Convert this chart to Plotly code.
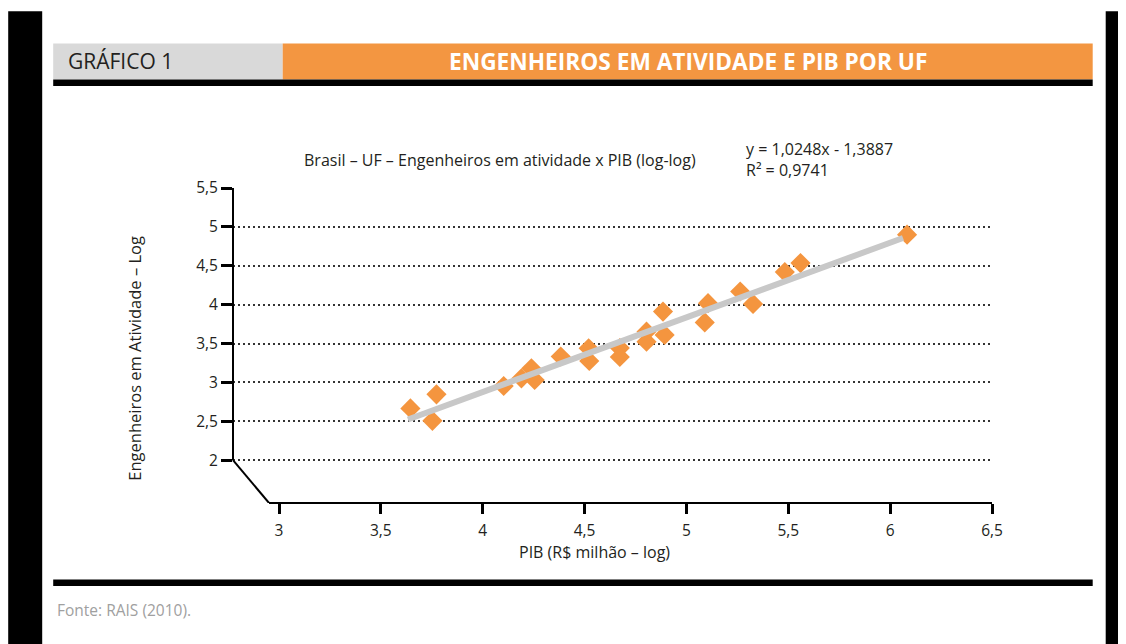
import plotly.graph_objects as go

# ---- data ----
pib_log = [3.645, 3.773, 3.753, 4.103, 4.190, 4.239, 4.255, 4.383, 4.520, 4.523,
           4.673, 4.673, 4.804, 4.804, 4.885, 4.893, 5.106, 5.090, 5.264, 5.327,
           5.483, 5.560, 6.083]
eng_log = [2.666, 2.847, 2.506, 2.954, 3.053, 3.182, 3.031, 3.334, 3.439, 3.276,
           3.443, 3.327, 3.653, 3.524, 3.911, 3.611, 4.019, 3.772, 4.169, 4.010,
           4.419, 4.535, 4.900]
trend_x = [3.633, 6.063]
trend_y = [2.524, 4.857]

x_ticks = [3, 3.5, 4, 4.5, 5, 5.5, 6, 6.5]
x_tick_labels = ["3", "3,5", "4", "4,5", "5", "5,5", "6", "6,5"]
y_ticks = [2, 2.5, 3, 3.5, 4, 4.5, 5, 5.5]
y_tick_labels = ["2", "2,5", "3", "3,5", "4", "4,5", "5", "5,5"]

header_left = "GRÁFICO 1"
header_title = "ENGENHEIROS EM ATIVIDADE E PIB POR UF"
chart_title = "Brasil – UF – Engenheiros em atividade x PIB (log-log)"
equation = "y = 1,0248x - 1,3887<br>R² = 0,9741"
x_title = "PIB (R$ milhão – log)"
y_title = "Engenheiros em Atividade – Log"
source = "Fonte: RAIS (2010)."

# ---- layout geometry (reference pixels) ----
W, H = 1126, 644
OFF = 8  # page body margin of the browser
L, PR, PT, PB = 233.3, 992.3, 188.3, 502.7   # plot area edges in px
x_min = 3 - (279.3 - L) / 203.7
y_min = 2 - (PB - 460.0) / 77.6
x_axis_start = 3 - (279.3 - 269.3) / 203.7

pw, ph = PR - L, PB - PT


def px(x):
    return (x - L) / pw


def py(y):
    return (PB - y) / ph


FONT = "Open Sans"
ORANGE = "#F4953F"
TXT = "#231F20"

fig = go.Figure()
fig.add_trace(go.Scatter(
    x=pib_log, y=eng_log, mode="markers",
    marker=dict(symbol="diamond", size=15.5, color=ORANGE, line=dict(width=0)),
    showlegend=False, hoverinfo="x+y"))
fig.add_trace(go.Scatter(
    x=trend_x, y=trend_y, mode="lines",
    line=dict(color="#C8C8C8", width=6),
    showlegend=False, hoverinfo="skip"))

shapes = []


def rect(x0, y0, x1, y1, color):
    shapes.append(dict(type="rect", xref="paper", yref="paper",
                       x0=px(x0), x1=px(x1), y0=py(y0), y1=py(y1),
                       fillcolor=color, line=dict(width=0), layer="above"))


# side bars
rect(8.5, 12, 42.5, 660, "black")
rect(1106, 12, 1140, 660, "black")
# header
rect(53.5, 44, 283, 80, "#D9D9D9")
rect(283, 44, 1093, 80, "#F39641")
rect(53.5, 80, 1093, 86.5, "black")
# footer rule
rect(53.5, 579, 1093, 585.5, "black")

# axes lines
shapes.append(dict(type="line", xref="paper", yref="y", x0=0, x1=0,
                   y0=y_ticks[0], y1=y_ticks[-1], line=dict(color="black", width=2)))
shapes.append(dict(type="line", xref="x", yref="paper", x0=x_axis_start, x1=x_ticks[-1],
                   y0=0, y1=0, line=dict(color="black", width=2)))
shapes.append(dict(type="line", xref="paper", yref="y", x0=0, y0=y_ticks[0],
                   x1=px(269.3), y1=y_min, line=dict(color="black", width=2)))

annotations = [
    dict(text=header_left, x=px(66), y=py(62), xref="paper", yref="paper",
         xanchor="left", yanchor="middle", showarrow=False,
         font=dict(family=FONT, size=21, color=TXT)),
    dict(text="<b>" + header_title + "</b>", x=px(688), y=py(62), xref="paper", yref="paper",
         xanchor="center", yanchor="middle", showarrow=False,
         font=dict(family=FONT, size=22.7, color="white")),
    dict(text=chart_title, x=px(500), y=py(160), xref="paper", yref="paper",
         xanchor="center", yanchor="middle", showarrow=False,
         font=dict(family=FONT, size=16, color=TXT)),
    dict(text=equation, x=px(744), y=py(160), xref="paper", yref="paper",
         xanchor="left", yanchor="middle", align="left", showarrow=False,
         font=dict(family=FONT, size=16, color=TXT)),
    dict(text=x_title, x=px(595), y=py(552), xref="paper", yref="paper",
         xanchor="center", yanchor="middle", showarrow=False,
         font=dict(family=FONT, size=16, color=TXT)),
    dict(text=y_title, x=px(134), y=py(358), xref="paper", yref="paper",
         xanchor="center", yanchor="middle", textangle=-90, showarrow=False,
         font=dict(family=FONT, size=16.5, color=TXT)),
    dict(text=source, x=px(55), y=py(609), xref="paper", yref="paper",
         xanchor="left", yanchor="middle", showarrow=False,
         font=dict(family=FONT, size=15.5, color="#A0A0A0")),
]

fig.update_layout(
    width=W, height=H,
    margin=dict(l=L - OFF, r=W - (PR - OFF), t=PT - OFF, b=H - (PB - OFF), pad=0),
    paper_bgcolor="white", plot_bgcolor="white",
    font=dict(family=FONT, size=15, color=TXT),
    shapes=shapes, annotations=annotations,
    xaxis=dict(range=[x_min, x_ticks[-1]], tickvals=x_ticks, ticktext=x_tick_labels,
               showgrid=False, zeroline=False, showline=False,
               ticks="outside", ticklen=10, tickwidth=3, tickcolor="black",
               ticklabelstandoff=3, tickfont=dict(size=15.5)),
    yaxis=dict(range=[y_min, y_ticks[-1]], tickvals=y_ticks, ticktext=y_tick_labels,
               showgrid=True, gridcolor="#333333", gridwidth=2, griddash="2px,3px",
               zeroline=False, showline=False,
               ticks="outside", ticklen=11, tickwidth=3, tickcolor="black",
               tickfont=dict(size=15.5)),
)

fig.write_html("out.html")
